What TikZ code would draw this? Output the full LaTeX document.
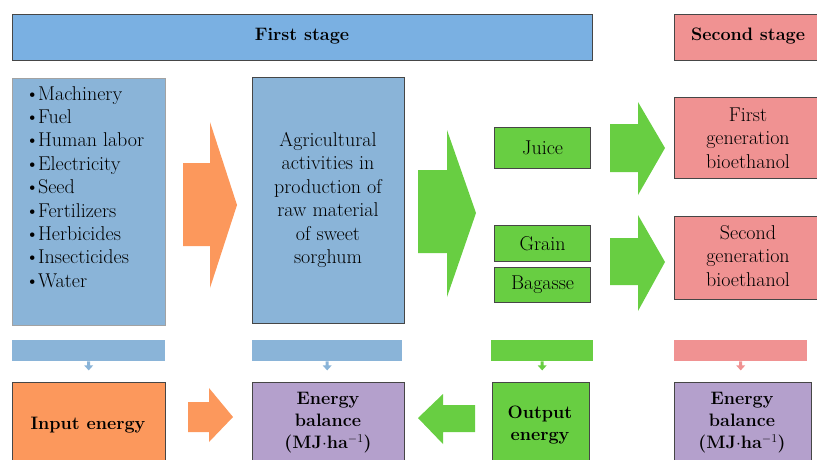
\documentclass[tikz,border=0pt]{standalone}
\usepackage{tikz}
\definecolor{hdrblue}{RGB}{122,176,226}
\definecolor{boxblue}{RGB}{138,180,216}
\definecolor{orng}{RGB}{252,152,92}
\definecolor{grn}{RGB}{104,206,66}
\definecolor{pnk}{RGB}{240,146,146}
\definecolor{purp}{RGB}{180,160,204}
\definecolor{edge}{RGB}{70,70,70}
\tikzset{
  box/.style={draw=edge, line width=1.1pt, inner sep=0pt, anchor=north west},
  txt/.style={font=\fontsize{20}{23.4}\selectfont, align=center, inner sep=0pt},
  btxt/.style={font=\fontsize{18}{22}\selectfont\bfseries, align=center, inner sep=0pt},
  bar/.style={inner sep=0pt, minimum height=21pt, anchor=north west},
}
\newcommand{\bul}{\textbullet\kern-1.5pt}
\begin{document}
\begin{tikzpicture}[x=1pt,y=-1pt]
\useasboundingbox (0,0) rectangle (817,459);
\clip (0,0) rectangle (817,459);
% headers
\node[box,fill=hdrblue,minimum width=580pt,minimum height=46pt] (first) at (12,14) {};
\node[btxt] (firstt) at (302,36) {First stage};
\node[box,fill=pnk,minimum width=150pt,minimum height=46pt] (second) at (674,14) {};
\node[btxt] (secondt) at (748,36) {Second stage};
% list box
\node[box,draw=edge!50,line width=0.8pt,fill=boxblue,minimum width=153pt,minimum height=247pt] (list) at (12,78) {};
\node[txt, align=left, anchor=north west] (listt) at (25,86) {%
\bul Machinery\\ \bul Fuel\\ \bul Human labor\\ \bul Electricity\\ \bul Seed\\ \bul Fertilizers\\ \bul Herbicides\\ \bul Insecticides\\ \bul Water};
% agricultural box
\node[box,fill=boxblue,minimum width=152pt,minimum height=246pt] (agri) at (252,77) {};
\node[txt] (agrit) at (328,200) {Agricultural\\ activities in\\ production of\\ raw material\\ of sweet\\ sorghum};
% products
\node[box,fill=grn,minimum width=96pt,minimum height=41pt] (juice) at (494,127) {};
\node[txt] at (juice.center) {Juice};
\node[box,fill=grn,minimum width=96pt,minimum height=36pt] (grain) at (494,225) {};
\node[txt] at (grain.center) {Grain};
\node[box,fill=grn,minimum width=96pt,minimum height=35pt] (bagasse) at (494,267) {};
\node[txt] at (bagasse.center) {Bagasse};
% bioethanol
\node[box,fill=pnk,minimum width=150pt,minimum height=81pt] (gen1) at (674,97) {};
\node[txt] at (748,138) {First\\ generation\\ bioethanol};
\node[box,fill=pnk,minimum width=150pt,minimum height=83pt] (gen2) at (674,216) {};
\node[txt] at (748,256) {Second\\ generation\\ bioethanol};
% big arrows
\fill[orng] (183,163) -- (210,163) -- (210,122) -- (237,205) -- (210,288) -- (210,246) -- (183,246) -- cycle;
\fill[grn] (418,170) -- (447,170) -- (447,130) -- (476,213) -- (447,297) -- (447,253) -- (418,253) -- cycle;
\fill[grn] (610,124) -- (638,124) -- (638,102) -- (665,148) -- (638,195) -- (638,172) -- (610,172) -- cycle;
\fill[grn] (610,238) -- (638,238) -- (638,215) -- (665,262) -- (638,311) -- (638,285) -- (610,285) -- cycle;
% bars
\node[bar,fill=boxblue,minimum width=153pt] (bar1) at (12,340) {};
\node[bar,fill=boxblue,minimum width=150pt] (bar2) at (252,340) {};
\node[bar,fill=grn,minimum width=102pt] (bar3) at (491,340) {};
\node[bar,fill=pnk,minimum width=133pt] (bar4) at (674,340) {};
\foreach \b/\c in {bar1/boxblue,bar2/boxblue,bar3/grn,bar4/pnk}{
  \fill[\c] ([xshift=-1.5pt]\b.south) -- ++(0,4) -- ++(-3,0) -- ([yshift=-9pt]\b.south) -- ([xshift=4.5pt,yshift=-4pt]\b.south) -- ++(-3,0) -- ++(0,-4) -- cycle;
}
% bottom boxes
\node[box,fill=orng,minimum width=153pt,minimum height=100pt] (input) at (12,382) {};
\node[btxt] at (88,425) {Input energy};
\node[box,fill=purp,minimum width=152pt,minimum height=100pt] (bal1) at (252,382) {};
\node[btxt] at (328,423) {Energy\\ balance\\ (MJ$\cdot$ha$^{-1}$)};
\node[box,fill=grn,minimum width=97pt,minimum height=100pt] (output) at (492,382) {};
\node[btxt] at (540,425) {Output\\ energy};
\node[box,fill=purp,minimum width=137pt,minimum height=100pt] (bal2) at (674,382) {};
\node[btxt] at (742,423) {Energy\\ balance\\ (MJ$\cdot$ha$^{-1}$)};
% small arrows
\fill[orng] (188,402) -- (209,402) -- (209,388) -- (233,417) -- (209,442) -- (209,432) -- (188,432) -- cycle;
\fill[grn] (418,418) -- (443,394) -- (443,405) -- (475,405) -- (475,432) -- (443,432) -- (443,444) -- cycle;
\end{tikzpicture}
\end{document}
